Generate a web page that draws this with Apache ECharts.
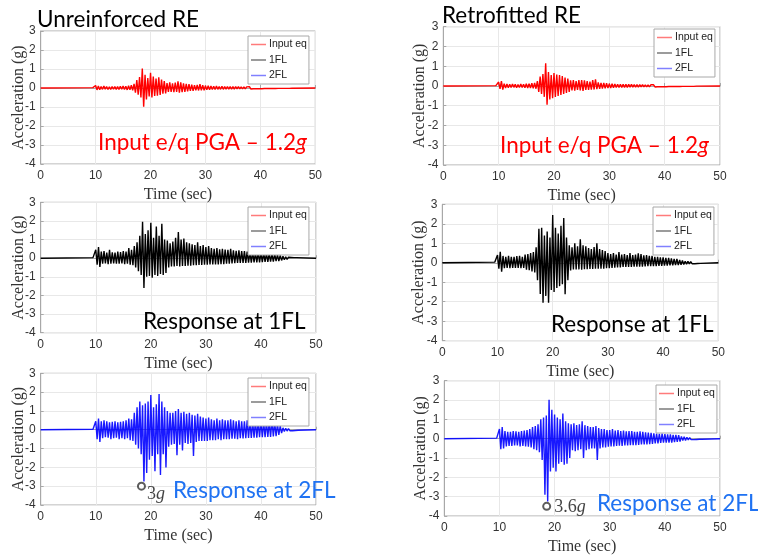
<!DOCTYPE html>
<html><head><meta charset="utf-8">
<script src="https://cdn.jsdelivr.net/npm/echarts@6/dist/echarts.min.js"></script>
<style>html,body{margin:0;padding:0;background:#fff}#c{width:758px;height:556px}</style>
</head><body><div id="c"></div>
<script>
// ---- data ----
const xMin = 0, xMax = 50, xInterval = 10;
const yMin = -4, yMax = 3, yInterval = 1;
const legendNames = ['Input eq', '1FL', '2FL'];
const sampleStart = 9.5, sampleStep = 0.25;   // time of first sample, sample spacing (s)

const inputEqUnreinforced = [
 0.02,-0.02,
 0.13,-0.1,0.11,-0.09, 0.08,-0.07,0.1,-0.06, 0.07,-0.08,0.06,-0.07, 0.08,-0.06,0.07,-0.07,
 0.07,-0.08,0.09,-0.07, 0.1,-0.08,0.09,-0.1, 0.12,-0.1,0.15,-0.12, 0.22,-0.25,0.42,-0.35,
 0.58,-0.5,1.02,-0.98, 0.7,-0.6,0.52,-0.45, 0.8,-0.5,0.6,-0.42, 0.5,-0.4,0.56,-0.36,
 0.45,-0.3,0.36,-0.28, 0.26,-0.2,0.3,-0.21, 0.25,-0.22,0.28,-0.2, 0.35,-0.25,0.3,-0.22,
 0.25,-0.2,0.22,-0.18, 0.2,-0.15,0.18,-0.15, 0.15,-0.12,0.16,-0.13, 0.2,-0.12,0.15,-0.12,
 0.12,-0.1,0.12,-0.09, 0.1,-0.08,0.09,-0.08, 0.1,-0.07,0.08,-0.07, 0.09,-0.07,0.08,-0.06,
 0.08,-0.06,0.07,-0.06, 0.07,-0.06,0.08,-0.05, 0.08,-0.05,0.06,-0.05, 0.06,-0.05,0.06,-0.04,
 0.07,-0.05,0.05,-0.04, 0.06,-0.04,0.05,-0.04, 0.05,-0.04,0.05,-0.03, 0.04,-0.03,0.04,-0.03,
 0.04,-0.03,0.03,-0.03, 0.03,-0.02,0.03,-0.02, 0.03,-0.02,0.02,-0.02, 0.02,-0.02,0.02,-0.01
];
const inputEqRetrofitted = [
 0.02,-0.02,
 0.2,-0.15,0.25,-0.18, 0.12,-0.1,0.1,-0.09, 0.09,-0.08,0.1,-0.07, 0.08,-0.09,0.07,-0.08,
 0.1,-0.08,0.09,-0.09, 0.11,-0.1,0.12,-0.1, 0.14,-0.12,0.16,-0.14, 0.25,-0.3,0.48,-0.4,
 0.6,-0.55,1.15,-0.95, 0.7,-0.68,0.55,-0.62, 0.65,-0.55,0.58,-0.5, 0.55,-0.45,0.5,-0.4,
 0.42,-0.35,0.38,-0.3, 0.28,-0.22,0.3,-0.24, 0.25,-0.2,0.3,-0.22, 0.3,-0.25,0.28,-0.2,
 0.24,-0.2,0.22,-0.18, 0.3,-0.18,0.34,-0.16, 0.18,-0.14,0.16,-0.13, 0.15,-0.12,0.14,-0.11,
 0.12,-0.1,0.11,-0.09, 0.1,-0.08,0.09,-0.08, 0.09,-0.07,0.08,-0.07, 0.08,-0.07,0.08,-0.06,
 0.08,-0.06,0.07,-0.06, 0.07,-0.06,0.07,-0.05, 0.07,-0.05,0.06,-0.05, 0.06,-0.05,0.06,-0.04,
 0.06,-0.05,0.05,-0.04, 0.05,-0.04,0.05,-0.04, 0.05,-0.04,0.04,-0.03, 0.04,-0.03,0.04,-0.03,
 0.04,-0.03,0.03,-0.03, 0.03,-0.02,0.03,-0.02, 0.03,-0.02,0.02,-0.02, 0.02,-0.02,0.02,-0.01
];
const floor1Unreinforced = [
 0.03,-0.03,
 0.45,-0.35,0.6,-0.47, 0.35,-0.3,0.38,-0.28, 0.3,-0.32,0.45,-0.3, 0.32,-0.28,0.3,-0.3,
 0.35,-0.3,0.33,-0.28, 0.38,-0.32,0.35,-0.3, 0.55,-0.35,0.45,-0.38, 0.65,-0.5,0.85,-0.7,
 1.2,-0.9,1.95,-1.6, 1.3,-1.0,1.5,-0.95, 1.9,-1.05,1.1,-0.9, 1.7,-0.95,1.2,-0.85,
 1.85,-0.9,1.0,-0.8, 0.95,-0.5,0.8,-0.45, 0.9,-0.45,1.1,-0.42, 1.4,-0.45,1.0,-0.42,
 1.05,-0.42,0.85,-0.4, 0.8,-0.4,0.75,-0.38, 0.7,-0.38,0.85,-0.36, 0.65,-0.36,0.7,-0.35,
 0.6,-0.35,0.65,-0.34, 0.55,-0.34,0.5,-0.33, 0.55,-0.33,0.48,-0.32, 0.5,-0.32,0.46,-0.3,
 0.45,-0.3,0.5,-0.28, 0.42,-0.27,0.4,-0.26, 0.42,-0.26,0.38,-0.25, 0.38,-0.25,0.36,-0.24,
 0.35,-0.24,0.33,-0.23, 0.3,-0.22,0.32,-0.22, 0.3,-0.21,0.28,-0.2, 0.26,-0.2,0.25,-0.18,
 0.23,-0.18,0.22,-0.16, 0.18,-0.15,0.15,-0.12, 0.1,-0.08,0.07,-0.06, 0.05,-0.04,0.04,-0.04,
 0.03,-0.03,0.03,-0.02
];
const floor1Retrofitted = [
 0.03,-0.03,
 0.4,-0.3,0.56,-0.46, 0.35,-0.28,0.3,-0.26, 0.36,-0.28,0.3,-0.26, 0.3,-0.27,0.34,-0.26,
 0.35,-0.28,0.3,-0.27, 0.42,-0.36,0.45,-0.38, 0.5,-0.45,0.55,-0.5, 0.8,-0.9,1.75,-1.6,
 1.8,-2.05,1.4,-1.7, 1.6,-2.05,1.3,-1.4, 2.45,-1.5,1.8,-1.3, 1.5,-1.2,1.9,-1.1,
 2.3,-1.62,1.3,-0.9, 0.9,-0.4,0.8,-0.35, 1.0,-0.35,0.85,-0.34, 1.2,-0.36,0.9,-0.33,
 0.85,-0.33,0.75,-0.32, 0.7,-0.32,0.8,-0.3, 1.0,-0.3,0.7,-0.3, 0.65,-0.3,0.6,-0.28,
 0.5,-0.28,0.45,-0.26, 0.5,-0.25,0.42,-0.24, 0.55,-0.24,0.42,-0.22, 0.45,-0.22,0.4,-0.22,
 0.5,-0.22,0.4,-0.2, 0.42,-0.2,0.48,-0.2, 0.45,-0.2,0.38,-0.19, 0.4,-0.18,0.36,-0.18,
 0.35,-0.18,0.3,-0.17, 0.3,-0.16,0.28,-0.16, 0.28,-0.15,0.25,-0.15, 0.25,-0.14,0.22,-0.13,
 0.2,-0.12,0.2,-0.12, 0.15,-0.1,0.12,-0.09, 0.08,-0.07,0.07,-0.06, 0.06,-0.05,0.05,-0.05,
 0.04,-0.04,0.03,-0.03
];
const floor2Unreinforced = [
 0.03,-0.03,
 0.45,-0.5,0.6,-0.65, 0.45,-0.45,0.5,-0.4, 0.45,-0.42,0.4,-0.5, 0.42,-0.45,0.45,-0.42,
 0.4,-0.5,0.42,-0.45, 0.45,-0.5,0.5,-0.45, 0.6,-0.55,0.55,-0.6, 0.9,-0.8,1.2,-1.0,
 1.5,-1.3,1.3,-2.75, 1.4,-2.3,1.5,-1.6, 1.85,-1.4,1.2,-2.2, 1.35,-1.3,1.9,-2.4,
 1.5,-1.3,1.2,-2.0, 1.0,-0.9,0.9,-0.8, 0.9,-0.75,1.0,-1.35, 1.1,-0.8,0.9,-1.1,
 0.95,-0.7,0.85,-0.75, 0.9,-0.7,0.8,-1.4, 0.75,-0.65,0.85,-0.6, 0.7,-0.6,0.65,-0.6,
 0.6,-0.6,0.65,-0.55, 0.55,-0.55,0.5,-0.55, 0.6,-0.5,0.5,-0.55, 0.55,-0.5,0.5,-0.5,
 0.5,-0.5,0.55,-0.48, 0.5,-0.48,0.45,-0.5, 0.5,-0.45,0.45,-0.46, 0.45,-0.45,0.5,-0.44,
 0.45,-0.44,0.42,-0.42, 0.48,-0.42,0.42,-0.4, 0.45,-0.4,0.4,-0.4, 0.42,-0.38,0.4,-0.38,
 0.5,-0.36,0.38,-0.34, 0.3,-0.28,0.2,-0.18, 0.1,-0.09,0.08,-0.07, 0.06,-0.05,0.05,-0.05,
 0.04,-0.04,0.03,-0.03
];
const floor2Retrofitted = [
 0.03,-0.03,
 0.5,-0.55,0.6,-0.5, 0.4,-0.4,0.35,-0.38, 0.35,-0.38,0.4,-0.35, 0.38,-0.35,0.35,-0.4,
 0.4,-0.38,0.42,-0.4, 0.45,-0.42,0.5,-0.45, 0.6,-0.55,0.65,-0.6, 0.75,-0.7,1.0,-1.1,
 1.1,-2.9,1.2,-3.25, 2.02,-1.7,1.5,-1.5, 1.25,-1.7,1.1,-1.3, 1.0,-1.2,1.3,-1.35,
 0.9,-1.3,0.8,-1.0, 0.75,-0.6,0.8,-0.65, 0.7,-0.6,0.75,-0.55, 0.9,-1.0,0.7,-0.6,
 0.65,-0.55,0.6,-0.5, 0.6,-0.5,0.65,-1.1, 0.55,-0.5,0.5,-0.45, 0.5,-0.45,0.45,-0.42,
 0.45,-0.4,0.5,-0.4, 0.42,-0.38,0.45,-0.36, 0.4,-0.38,0.42,-0.35, 0.38,-0.35,0.4,-0.34,
 0.4,-0.33,0.36,-0.33, 0.36,-0.32,0.38,-0.3, 0.35,-0.3,0.33,-0.3, 0.32,-0.28,0.3,-0.27,
 0.28,-0.25,0.26,-0.24, 0.25,-0.22,0.26,-0.2, 0.24,-0.2,0.22,-0.2, 0.22,-0.2,0.2,-0.18,
 0.2,-0.17,0.18,-0.15, 0.12,-0.1,0.1,-0.09, 0.07,-0.06,0.06,-0.05, 0.05,-0.05,0.04,-0.04,
 0.04,-0.03,0.03,-0.03
];
const peakUnreinforced = [[18.3, -3.0]];
const peakRetrofitted = [[18.57, -3.5]];
const peakLabels = ['3', '3.6'];

// ---- layout ----
const panels = [
  {rect:{left:40.7, top:31, width:274.6, height:133}, name:'Input eq', values:inputEqUnreinforced, color:'#ff0000', legend:{left:248, top:36}, gap:14},
  {rect:{left:443.3, top:26.7, width:276.7, height:138.3}, name:'Input eq', values:inputEqRetrofitted, color:'#ff0000', legend:{left:654, top:29}, gap:16},
  {rect:{left:40.7, top:202.3, width:275.3, height:130.4}, name:'1FL', values:floor1Unreinforced, color:'#000000', legend:{left:248, top:207}, gap:14},
  {rect:{left:442.3, top:204.3, width:276, height:136.4}, name:'1FL', values:floor1Retrofitted, color:'#000000', legend:{left:653, top:207}, gap:16},
  {rect:{left:40.7, top:373.3, width:275.3, height:131.7}, name:'2FL', values:floor2Unreinforced, color:'#0000ff', legend:{left:248, top:378}, gap:14},
  {rect:{left:444.3, top:380.7, width:275.7, height:138.3}, name:'2FL', values:floor2Retrofitted, color:'#0000ff', legend:{left:656, top:385}, gap:16}
];
const legendColors = {'Input eq':'#ff7b7b', '1FL':'#7a7a7a', '2FL':'#8080ff'};

function toSeriesData(values) {
  const d = [[xMin, 0]];
  values.forEach((v, i) => d.push([sampleStart + i * sampleStep, v]));
  d.push([xMax, 0]);
  return d;
}

const tickFont = {color:'#333', fontSize:12, fontFamily:'Liberation Sans, Arial, sans-serif'};
const nameFont = {color:'#333', fontSize:16, fontFamily:'Liberation Serif, Times New Roman, serif'};

const grids = [], xAxes = [], yAxes = [], series = [], legends = [];
panels.forEach((p, i) => {
  grids.push(Object.assign({show:true, borderColor:'#a8a8a8', borderWidth:1, backgroundColor:'#fff'}, p.rect));
  xAxes.push({type:'value', gridIndex:i, min:xMin, max:xMax, interval:xInterval,
    name:'Time (sec)', nameLocation:'middle', nameGap:23, nameTextStyle:nameFont,
    axisLine:{show:true, lineStyle:{color:'#a8a8a8'}}, axisTick:{inside:true, length:3, lineStyle:{color:'#a8a8a8'}},
    axisLabel:Object.assign({margin:6}, tickFont),
    splitLine:{show:true, lineStyle:{color:'#e8e8e8', width:1}}});
  yAxes.push({type:'value', gridIndex:i, min:yMin, max:yMax, interval:yInterval,
    name:'Acceleration (g)', nameLocation:'middle', nameGap:p.gap, nameMoveOverlap:false, nameTextStyle:nameFont,
    axisLine:{show:true, lineStyle:{color:'#a8a8a8'}}, axisTick:{inside:true, length:3, lineStyle:{color:'#a8a8a8'}},
    axisLabel:Object.assign({margin:5}, tickFont),
    splitLine:{show:true, lineStyle:{color:'#e8e8e8', width:1}}});
  series.push({type:'line', name:p.name, xAxisIndex:i, yAxisIndex:i, data:toSeriesData(p.values),
    symbol:'none', showSymbol:false, animation:false, silent:true,
    lineStyle:{color:p.color, width:1.4, opacity: p.name === '2FL' ? 0.9 : 1}, itemStyle:{color:p.color}, z:3});
  legends.push({left:p.legend.left, top:p.legend.top, orient:'vertical', selectedMode:false,
    backgroundColor:'#fff', borderColor:'#a8a8a8', borderWidth:1, borderRadius:0,
    padding:[3,2,3,3], itemGap:4.5, itemWidth:15, itemHeight:1.5, icon:'rect',
    textStyle:{fontSize:10.5, color:'#222', fontFamily:'Liberation Sans, Arial, sans-serif', padding:[0,0,0,-2]},
    data: legendNames.map(n => ({name:n, icon:'rect', itemStyle:{color:legendColors[n]}}))});
});

const peakSets = [{i:4, data:peakUnreinforced, label:peakLabels[0], offset:[-2,8]}, {i:5, data:peakRetrofitted, label:peakLabels[1], offset:[0,1]}];
peakSets.forEach(s => {
  series.push({type:'scatter', xAxisIndex:s.i, yAxisIndex:s.i, data:s.data, symbol:'emptyCircle', symbolSize:7,
    animation:false, silent:true, z:5,
    itemStyle:{color:'#333', borderColor:'#333', borderWidth:1},
    label:{show:true, position:'right', distance:3, offset:s.offset,
      formatter:'{n|' + s.label + '}{g|g}',
      rich:{n:{fontFamily:'Liberation Serif, serif', fontSize:18, color:'#111'},
            g:{fontFamily:'Liberation Serif, serif', fontSize:18, fontStyle:'italic', color:'#111'}}}});
});

const bigFont = 'Lato, Calibri, sans-serif';
const bigSize = 22.5;
function txt(x, y, parts, color) {
  return {type:'text', left:x, top:y, silent:true, z:10,
    style:{text:parts, fill:color, font:bigSize + 'px ' + bigFont,
      rich:{n:{fontFamily:bigFont, fontSize:bigSize, fill:color}, i:{fontFamily:bigFont, fontSize:bigSize, fontStyle:'italic', fill:color}}}};
}
const graphics = [
  txt(37, 8, '{n|Unreinforced RE}', '#000'),
  txt(442, 4, '{n|Retrofitted RE}', '#000'),
  txt(98, 131, '{n|Input e/q PGA – 1.2}{i|g}', '#ff0000'),
  txt(500, 134, '{n|Input e/q PGA – 1.2}{i|g}', '#ff0000'),
  txt(143, 310, '{n|Response at 1FL}', '#000'),
  txt(551, 313, '{n|Response at 1FL}', '#000'),
  txt(173, 479, '{n|Response at 2FL}', '#1f72f2'),
  txt(597, 492, '{n|Response at 2FL}', '#1f72f2')
];

const chart = echarts.init(document.getElementById('c'), null, {renderer:'canvas'});
chart.setOption({animation:false, backgroundColor:'#fff', grid:grids, xAxis:xAxes, yAxis:yAxes, series:series, legend:legends, graphic:graphics});
</script></body></html>
